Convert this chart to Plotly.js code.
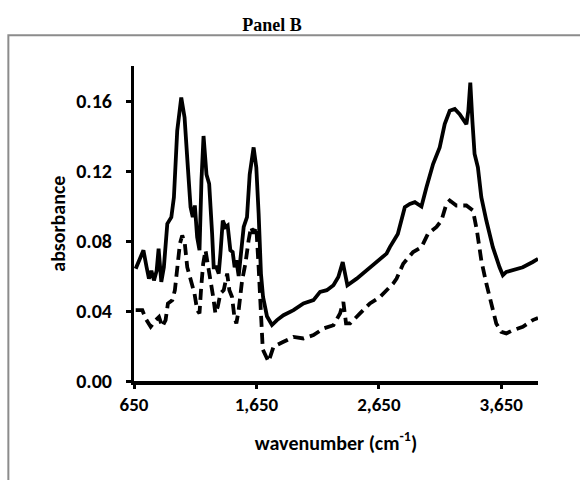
<!DOCTYPE html>
<html>
<head>
<meta charset="utf-8">
<script src="https://cdn.plot.ly/plotly-3.0.1.min.js"></script>
<style>
  html, body { margin: 0; padding: 0; background: #fff; overflow: hidden; }
  #chart { width: 580px; height: 480px; }
</style>
</head>
<body>
<div id="chart"></div>
<script>
// Solid spectrum
const solidX = [664, 727, 753, 772, 792, 813, 835, 851, 873, 894, 922, 955, 976, 1003, 1036, 1063, 1090, 1112, 1130, 1147, 1166, 1185, 1201, 1218, 1242, 1264, 1288, 1301, 1323, 1342, 1356, 1375, 1397, 1415, 1437, 1456, 1472, 1486, 1505, 1525, 1546, 1573, 1595, 1627, 1649, 1668, 1687, 1704, 1718, 1736, 1777, 1818, 1871, 1953, 2034, 2116, 2170, 2225, 2279, 2319, 2355, 2374, 2393, 2469, 2551, 2632, 2713, 2740, 2805, 2862, 2903, 2944, 2998, 3039, 3093, 3147, 3188, 3229, 3270, 3310, 3365, 3381, 3397, 3414, 3432, 3459, 3487, 3528, 3581, 3636, 3663, 3691, 3744, 3826, 3907, 3950];
const solidY = [0.0642, 0.0747, 0.0650, 0.0585, 0.0630, 0.0575, 0.0630, 0.0756, 0.0566, 0.0650, 0.0898, 0.0936, 0.1050, 0.1430, 0.1620, 0.1506, 0.1220, 0.0993, 0.0936, 0.1003, 0.0822, 0.0747, 0.1145, 0.1400, 0.1180, 0.1127, 0.0842, 0.0650, 0.0650, 0.0614, 0.0728, 0.0917, 0.0880, 0.0889, 0.0747, 0.0737, 0.0650, 0.0690, 0.0600, 0.0728, 0.0880, 0.0936, 0.1180, 0.1335, 0.1220, 0.0956, 0.0614, 0.0480, 0.0420, 0.0370, 0.0320, 0.0348, 0.0376, 0.0405, 0.0443, 0.0462, 0.0509, 0.0519, 0.0547, 0.0594, 0.0680, 0.0614, 0.0547, 0.0585, 0.0632, 0.0680, 0.0728, 0.0765, 0.0840, 0.0993, 0.1012, 0.1022, 0.0997, 0.1107, 0.1240, 0.1335, 0.1468, 0.1544, 0.1554, 0.1525, 0.1468, 0.1544, 0.1705, 0.1487, 0.1297, 0.1221, 0.1050, 0.0917, 0.0765, 0.0650, 0.0604, 0.0623, 0.0632, 0.0650, 0.0680, 0.0698];

// Dashed spectrum
const dashX = [664, 718, 745, 786, 827, 854, 881, 908, 927, 963, 984, 1003, 1025, 1044, 1065, 1085, 1106, 1126, 1144, 1166, 1185, 1199, 1215, 1234, 1253, 1275, 1297, 1315, 1334, 1356, 1383, 1411, 1429, 1451, 1470, 1486, 1505, 1533, 1560, 1586, 1606, 1627, 1649, 1668, 1682, 1696, 1702, 1749, 1790, 1871, 1953, 2034, 2116, 2197, 2279, 2333, 2360, 2382, 2415, 2496, 2577, 2659, 2740, 2767, 2795, 2849, 2930, 2998, 3052, 3121, 3161, 3202, 3229, 3283, 3365, 3419, 3451, 3487, 3528, 3568, 3609, 3650, 3691, 3744, 3826, 3907, 3950];
const dashY = [0.0405, 0.0405, 0.0357, 0.0310, 0.0348, 0.0366, 0.0310, 0.0348, 0.0443, 0.0462, 0.0519, 0.0670, 0.0785, 0.0832, 0.0785, 0.0650, 0.0594, 0.0557, 0.0500, 0.0405, 0.0386, 0.0537, 0.0670, 0.0747, 0.0670, 0.0557, 0.0480, 0.0386, 0.0424, 0.0500, 0.0519, 0.0614, 0.0519, 0.0480, 0.0366, 0.0329, 0.0405, 0.0575, 0.0670, 0.0803, 0.0880, 0.0842, 0.0880, 0.0650, 0.0424, 0.0300, 0.0180, 0.0110, 0.0196, 0.0224, 0.0252, 0.0243, 0.0262, 0.0300, 0.0319, 0.0386, 0.0452, 0.0329, 0.0329, 0.0386, 0.0443, 0.0480, 0.0537, 0.0557, 0.0585, 0.0670, 0.0737, 0.0765, 0.0842, 0.0880, 0.0917, 0.1012, 0.1031, 0.1003, 0.1003, 0.0974, 0.0860, 0.0689, 0.0557, 0.0443, 0.0329, 0.0281, 0.0272, 0.0290, 0.0310, 0.0348, 0.0360];

const xTicks = [650, 1650, 2650, 3650];
const xTickText = ['650', '1,650', '2,650', '3,650'];
const yTicks = [0.00, 0.04, 0.08, 0.12, 0.16];
const yTickText = ['0.00', '0.04', '0.08', '0.12', '0.16'];
const xTitle = 'wavenumber (cm<sup>-1</sup>)';
const yTitle = 'absorbance';

const sansFont = 'Carlito, Lato, "Open Sans", sans-serif';
const xRange = [650, 3950];
const yRange = [0, 0.18];

const traces = [
  { x: solidX, y: solidY, type: 'scatter', mode: 'lines', name: 'solid',
    xaxis: 'x', yaxis: 'y',
    line: { color: '#000', width: 3.8, shape: 'linear' }, hoverinfo: 'none' },
  { x: dashX, y: dashY, type: 'scatter', mode: 'lines', name: 'dashed',
    xaxis: 'x', yaxis: 'y2',
    line: { color: '#000', width: 3.8, dash: '11px,6px' }, hoverinfo: 'none' }
];

const layout = {
  width: 580, height: 480,
  margin: { l: 134, r: 42, t: 66, b: 99 },
  paper_bgcolor: '#fff', plot_bgcolor: '#fff',
  showlegend: false,
  title: {
    text: '<b>Panel B</b>',
    font: { family: '"Liberation Serif", "Times New Roman", serif', size: 18, color: '#000' },
    x: 0.469, xref: 'container', xanchor: 'center',
    y: 0.948, yref: 'container', yanchor: 'middle'
  },
  xaxis: {
    range: xRange,
    tickvals: xTicks, ticktext: xTickText,
    showgrid: false, zeroline: false,
    showline: true, linecolor: '#000', linewidth: 3.5,
    ticks: 'outside', ticklen: 4, tickwidth: 3, tickcolor: '#000',
    tickfont: { family: sansFont, size: 19, color: '#000', weight: 'bold' },
    title: { text: xTitle, standoff: 21,
             font: { family: sansFont, size: 20, color: '#000', weight: 'bold' } },
    automargin: false, fixedrange: true
  },
  // main y axis: line and tick marks
  yaxis: {
    range: yRange,
    tickvals: yTicks,
    showticklabels: false,
    showgrid: false, zeroline: false,
    showline: true, linecolor: '#000', linewidth: 3.5,
    ticks: 'outside', ticklen: 5, tickwidth: 3, tickcolor: '#000',
    automargin: false, fixedrange: true
  },
  // overlay y axis (same range): carries the tick labels, set further from the line
  yaxis2: {
    overlaying: 'y', side: 'left',
    range: yRange,
    tickvals: yTicks, ticktext: yTickText,
    showgrid: false, zeroline: false, showline: false,
    ticks: 'outside', ticklen: 17, tickwidth: 1, tickcolor: 'rgba(0,0,0,0)',
    tickfont: { family: sansFont, size: 20, color: '#000', weight: 'bold' },
    automargin: false, fixedrange: true
  },
  annotations: [{
    text: yTitle, textangle: -90, showarrow: false,
    xref: 'paper', yref: 'paper', x: -0.19, y: 0.5,
    xanchor: 'center', yanchor: 'middle',
    font: { family: sansFont, size: 20, color: '#000000', weight: 'bold' }
  }],
  shapes: [{
    type: 'rect', xref: 'paper', yref: 'paper',
    x0: -0.311, x1: 1.2, y0: -0.33, y1: 1.098,
    line: { color: '#8c8c8c', width: 2 }, fillcolor: 'rgba(0,0,0,0)', layer: 'below'
  }]
};

Plotly.newPlot('chart', traces, layout, { staticPlot: true, displayModeBar: false });
</script>
</body>
</html>
